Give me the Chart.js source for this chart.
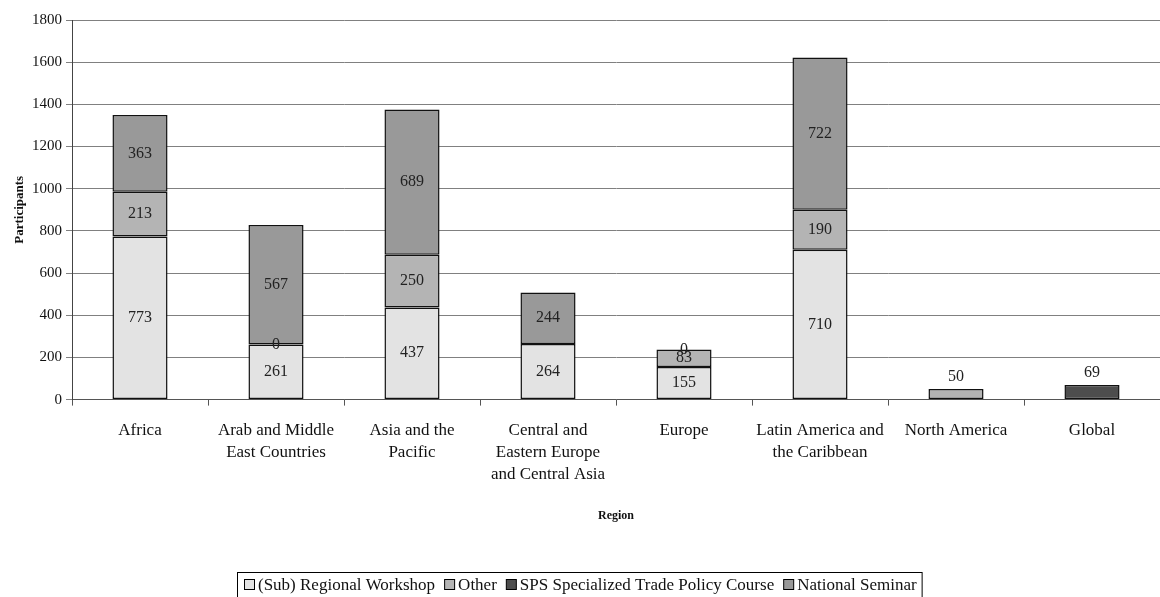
<!DOCTYPE html>
<html>
<head>
<meta charset="utf-8">
<script src="https://cdn.jsdelivr.net/npm/chart.js@4/dist/chart.umd.min.js"></script>
<style>
  html, body { margin: 0; padding: 0; background: #fff; }
  #wrap { width: 1160px; height: 597px; }
</style>
</head>
<body>
<div id="wrap"><canvas id="graphic-participants" width="1160" height="597"></canvas></div>
<script>
const regions = [
    ['Africa'],
    ['Arab and Middle', 'East Countries'],
    ['Asia and the', 'Pacific'],
    ['Central and', 'Eastern Europe', 'and Central Asia'],
    ['Europe'],
    ['Latin America and', 'the Caribbean'],
    ['North America'],
    ['Global']
];
const workshop = [773, 261, 437, 264, 155, 710, null, null];
const other = [213, 0, 250, null, 83, 190, 50, null];
const spsCourse = [null, null, null, null, null, null, null, 69];
const nationalSeminar = [363, 567, 689, 244, 0, 722, null, null];
const yTicks = [0, 200, 400, 600, 800, 1000, 1200, 1400, 1600, 1800];

const serif = "'Liberation Serif', 'Times New Roman', serif";
const ctx = document.getElementById('graphic-participants');

// value labels in the middle of each segment (above the bar when it is too thin)
const barLabels = {
    id: 'barLabels',
    afterDatasetsDraw(chart) {
        const c = chart.ctx;
        c.save();
        c.font = '16px ' + serif;
        c.fillStyle = '#222';
        c.textAlign = 'center';
        c.textBaseline = 'middle';
        chart.data.datasets.forEach(function(ds, di) {
            const meta = chart.getDatasetMeta(di);
            meta.data.forEach(function(el, i) {
                const v = ds.data[i];
                if (v === null || v === undefined) return;
                const h = el.base - el.y;
                let y = (el.y + el.base) / 2;
                if (v > 0 && h < 16.5) y = el.y - 12;
                c.fillText(String(v), el.x, y);
            });
        });
        c.restore();
    }
};

// legend drawn by hand: tight spacing and a box round it
const boxLegend = {
    id: 'boxLegend',
    afterDraw(chart) {
        const c = chart.ctx;
        const sq = 11, gap = 3, itemGap = 9, pad = 6, cy = 585;
        c.save();
        c.font = '17px ' + serif;
        c.textBaseline = 'middle';
        const items = chart.data.datasets.map(function(ds) {
            return { text: ds.label, color: ds.backgroundColor, w: c.measureText(ds.label).width };
        });
        let total = 0;
        items.forEach(function(it, i) {
            total += sq + gap + it.w + (i ? itemGap : 0);
        });
        let x = Math.round(chart.width / 2 - total / 2);
        c.strokeStyle = '#000';
        c.lineWidth = 1;
        c.strokeRect(x - pad - 0.5, 572.5, total + pad * 2, 25);
        items.forEach(function(it) {
            c.fillStyle = it.color;
            c.fillRect(x + 0.5, cy - 5.5, sq - 1, sq - 1);
            c.strokeStyle = '#000';
            c.strokeRect(x + 0.5, cy - 5.5, sq - 1, sq - 1);
            c.fillStyle = '#111';
            c.fillText(it.text, x + sq + gap, cy + 1);
            x += sq + gap + it.w + itemGap;
        });
        c.restore();
    }
};

const segment = {
    borderColor: '#111',
    borderWidth: 1.5,
    borderSkipped: false,
    barPercentage: 0.405,
    categoryPercentage: 1.0
};

new Chart(ctx, {
    type: 'bar',
    data: {
        labels: regions,
        datasets: [
            Object.assign({ label: '(Sub) Regional Workshop', data: workshop, backgroundColor: '#e3e3e3' }, segment),
            Object.assign({ label: 'Other', data: other, backgroundColor: '#b4b4b4' }, segment),
            Object.assign({ label: 'SPS Specialized Trade Policy Course', data: spsCourse, backgroundColor: '#4d4d4d' }, segment),
            Object.assign({ label: 'National Seminar', data: nationalSeminar, backgroundColor: '#999999' }, segment)
        ]
    },
    options: {
        responsive: false,
        maintainAspectRatio: false,
        animation: false,
        layout: {
            padding: { top: 20, right: 0, left: 3, bottom: 74 }
        },
        scales: {
            x: {
                stacked: true,
                offset: true,
                grid: {
                    offset: true,
                    drawOnChartArea: false,
                    drawTicks: true,
                    tickLength: 6,
                    color: '#555'
                },
                border: { color: '#555', width: 1 },
                ticks: {
                    color: '#111',
                    font: { family: serif, size: 17, lineHeight: '22px' },
                    maxRotation: 0,
                    autoSkip: false,
                    padding: 14
                },
                title: {
                    display: true,
                    text: 'Region',
                    color: '#111',
                    font: { family: serif, size: 12, weight: 'bold' },
                    padding: { top: 9, bottom: 0 }
                }
            },
            y: {
                stacked: true,
                min: 0,
                max: 1800,
                afterBuildTicks: function(scale) {
                    scale.ticks = yTicks.map(function(v) { return { value: v }; });
                },
                afterFit: function(scale) {
                    scale.width = 69;
                },
                grid: {
                    color: '#808080',
                    lineWidth: 1,
                    tickLength: 6,
                    drawTicks: true
                },
                border: { color: '#444', width: 1 },
                ticks: {
                    color: '#111',
                    font: { family: serif, size: 15 },
                    padding: 4,
                    callback: function(value) { return String(value); }
                },
                title: {
                    display: true,
                    text: 'Participants',
                    color: '#111',
                    font: { family: serif, size: 13, weight: 'bold' },
                    padding: { top: 9, bottom: 0 }
                }
            }
        },
        plugins: {
            legend: { display: false },
            tooltip: { enabled: false }
        }
    },
    plugins: [barLabels, boxLegend]
});
</script>
</body>
</html>
